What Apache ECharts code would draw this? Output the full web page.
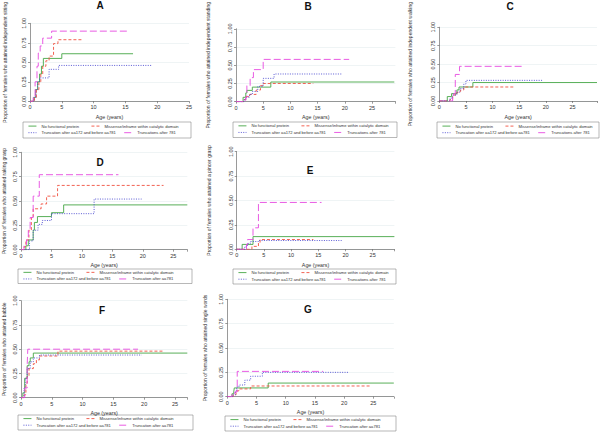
<!DOCTYPE html>
<html>
<head>
<meta charset="utf-8">
<script src="https://cdn.jsdelivr.net/npm/echarts@6/dist/echarts.min.js"></script>
<style>html,body{margin:0;padding:0;background:#fff;}#c{width:600px;height:435px;}</style>
</head>
<body>
<div id="c"></div>
<script>
// ---- data (age in years, cumulative proportion) ----
const panelLetters = ['A','B','C','D','E','F','G'];
const yTitles = [
  'Proportion of females who attained independent sitting',
  'Proportion of females who attained independent standing',
  'Proportion of females who attained independent walking',
  'Proportion of females who attained raking grasp',
  'Proportion of females who attained a pincer grasp',
  'Proportion of females who attained babble',
  'Proportion of females who attained single words'
];
const groupNames = ['No functional protein','Missense/inframe within catalytic domain','Truncation after aa172 and before aa781'];
const lastGroupNames = ['Truncations after 781','Truncations after 781','Truncations after 781','Truncation after aa781','Truncations after 781','Truncation after aa781','Truncation after aa781'];
const xMax = [25, 29.3, 29.6, 27.3, 29, 27, 28.5];
const xTicks = [0, 5, 10, 15, 20, 25];
const yTicks = [0, 0.25, 0.5, 0.75, 1];

const A_noFunc = [[0,0],[0.6,0.05],[0.9,0.15],[1.2,0.25],[1.5,0.35],[1.8,0.45],[2.1,0.55],[5.0,0.61],[16.2,0.61]];
const A_missense = [[0,0],[0.7,0.05],[1.0,0.15],[1.4,0.25],[1.7,0.35],[2.0,0.45],[2.5,0.52],[3.0,0.58],[3.7,0.74],[4.4,0.79],[8.1,0.79]];
const A_trunc172 = [[0,0],[0.6,0.05],[0.9,0.15],[1.2,0.25],[1.5,0.30],[3.0,0.41],[4.5,0.46],[19.2,0.46]];
const A_trunc781 = [[0,0],[0.5,0.05],[0.8,0.25],[1.1,0.45],[1.3,0.62],[1.6,0.71],[2.0,0.81],[3.4,0.90],[15.5,0.90]];

const B_noFunc = [[0,0],[1.3,0.06],[1.8,0.12],[2.0,0.155],[3.0,0.20],[6.4,0.27],[29.1,0.27]];
const B_missense = [[0,0],[1.5,0.03],[1.8,0.07],[2.5,0.10],[3.7,0.16],[4.5,0.22],[5.0,0.25],[14.2,0.25]];
const B_trunc172 = [[0,0],[1.5,0.03],[1.8,0.06],[2.5,0.10],[3.0,0.14],[4.0,0.21],[5.0,0.32],[7.0,0.38],[19.4,0.38]];
const B_trunc781 = [[0,0],[1.5,0.02],[1.8,0.06],[2.0,0.22],[2.6,0.33],[3.2,0.44],[5.0,0.58],[20.8,0.58]];

const C_noFunc = [[0,0],[1.5,0.06],[2.3,0.10],[3.3,0.15],[3.7,0.19],[6.3,0.25],[29.6,0.25]];
const C_missense = [[0,0],[2.0,0.02],[2.5,0.08],[3.0,0.11],[3.5,0.13],[4.0,0.15],[4.6,0.19],[14.2,0.19]];
const C_trunc172 = [[0,0],[2.0,0.04],[2.5,0.08],[3.3,0.12],[3.9,0.17],[4.6,0.23],[5.0,0.28],[19.4,0.28]];
const C_trunc781 = [[0,0],[2.5,0.05],[2.7,0.10],[3.0,0.36],[3.8,0.47],[15.75,0.47]];

const D_noFunc = [[0,0],[0.8,0.04],[1.2,0.10],[2.0,0.20],[2.2,0.28],[2.7,0.34],[5.0,0.38],[7.0,0.46],[27.3,0.46]];
const D_missense = [[0,0],[0.5,0.03],[0.8,0.10],[1.3,0.20],[1.7,0.33],[2.0,0.42],[3.3,0.47],[4.2,0.55],[6.0,0.66],[23.4,0.66]];
const D_trunc172 = [[0,0],[1.4,0.09],[2.0,0.20],[2.8,0.26],[3.5,0.30],[5.0,0.37],[12.0,0.52],[19.8,0.52]];
const D_trunc781 = [[0,0],[0.5,0.05],[0.9,0.10],[1.2,0.20],[1.5,0.33],[2.0,0.55],[3.0,0.77],[16.0,0.77]];

const E_noFunc = [[0,0],[1.0,0.05],[3.0,0.13],[29.0,0.13]];
const E_missense = [[0,0],[2.8,0.03],[4.0,0.07],[4.3,0.10],[14.1,0.10]];
const E_trunc172 = [[0,0],[1.5,0.03],[2.0,0.06],[2.5,0.08],[4.0,0.09],[19.3,0.09]];
const E_trunc781 = [[0,0],[1.8,0.05],[2.0,0.10],[3.0,0.22],[4.0,0.48],[15.6,0.48]];

const F_noFunc = [[0,0],[0.3,0.05],[0.6,0.20],[1.0,0.33],[1.3,0.37],[1.5,0.41],[2.0,0.46],[27.0,0.46]];
const F_missense = [[0,0],[0.5,0.03],[0.8,0.15],[1.0,0.22],[1.3,0.30],[2.0,0.35],[2.5,0.39],[3.0,0.43],[6.0,0.48],[23.0,0.48]];
const F_trunc172 = [[0,0],[0.5,0.10],[0.7,0.20],[1.0,0.30],[1.5,0.37],[2.0,0.41],[3.0,0.44],[19.6,0.44]];
const F_trunc781 = [[0,0],[0.6,0.10],[1.0,0.33],[1.1,0.50],[19.0,0.50]];

const G_noFunc = [[0,0],[0.8,0.03],[1.1,0.05],[1.2,0.09],[7.0,0.14],[28.5,0.14]];
const G_missense = [[0,0],[1.0,0.02],[1.5,0.06],[2.0,0.08],[4.0,0.11],[24.4,0.11]];
const G_trunc172 = [[0,0],[1.0,0.02],[1.4,0.06],[1.6,0.10],[2.0,0.12],[3.0,0.17],[4.0,0.21],[6.0,0.25],[20.7,0.25]];
const G_trunc781 = [[0,0],[0.8,0.03],[1.3,0.05],[1.7,0.26],[16.4,0.26]];

const panelData = [
  [A_noFunc, A_missense, A_trunc172, A_trunc781],
  [B_noFunc, B_missense, B_trunc172, B_trunc781],
  [C_noFunc, C_missense, C_trunc172, C_trunc781],
  [D_noFunc, D_missense, D_trunc172, D_trunc781],
  [E_noFunc, E_missense, E_trunc172, E_trunc781],
  [F_noFunc, F_missense, F_trunc172, F_trunc781],
  [G_noFunc, G_missense, G_trunc172, G_trunc781]
];

// ---- layout / styles ----
const layout = [
  {grid:[30,5.3,159,96],     nameGap:23, title:[100,0],   box:[23,122,168,16]},
  {grid:[236,4.7,159.4,97],  nameGap:26, title:[308,1],   box:[233,122,164,15.5]},
  {grid:[439.3,5,157.8,96],  nameGap:27, title:[510,1],   box:[437,122,162,16]},
  {grid:[20.7,152.3,166.6,97.4], nameGap:15, title:[100,157], box:[18,269,174,14.5]},
  {grid:[236.7,151.7,157.7,97.6], nameGap:25, title:[310,165], box:[233,269,163,15]},
  {grid:[20.7,300.7,166.6,97], nameGap:15, title:[102,305], box:[18,415,175,15]},
  {grid:[227.3,299.3,166.5,97.4], nameGap:20, title:[308,304], box:[225,416,171,15]}
];
const colors = ['#45a645','#f0503f','#4a4ad0','#e64ae0'];
const dashes = ['solid',[3,2],[1,1.4],[7,3]];
const FONT = '"Liberation Sans", Arial, sans-serif';
const txt = '#333';

const grids = [], xAxes = [], yAxes = [], series = [], legends = [], graphics = [];
layout.forEach((L, i) => {
  const [gl, gt, gw, gh] = L.grid;
  grids.push({left: gl, top: gt, width: gw, height: gh, containLabel: false});
  xAxes.push({
    type: 'value', gridIndex: i, min: 0, max: xMax[i], interval: 5,
    name: 'Age (years)', nameLocation: 'middle', nameGap: 13,
    nameTextStyle: {fontSize: 5.3, color: txt, fontFamily: FONT},
    axisLine: {show: true, lineStyle: {color: '#555', width: 0.6}},
    axisTick: {show: true, length: 2, lineStyle: {color: '#555', width: 0.6}},
    axisLabel: {fontSize: 5.5, color: txt, fontFamily: FONT, margin: 3,
      formatter: v => (xTicks.indexOf(v) >= 0 ? String(v) : '')},
    splitLine: {show: false}
  });
  yAxes.push({
    type: 'value', gridIndex: i, min: 0, max: 1, interval: 0.25,
    name: yTitles[i], nameLocation: 'middle', nameRotate: 90, nameGap: L.nameGap,
    nameTextStyle: {fontSize: 5, color: txt, fontFamily: FONT},
    axisLine: {show: true, lineStyle: {color: '#555', width: 0.6}},
    axisTick: {show: true, length: 2, lineStyle: {color: '#555', width: 0.6}},
    axisLabel: {fontSize: 5.5, color: txt, fontFamily: FONT, rotate: 90, margin: 3,
      formatter: v => (yTicks.indexOf(v) >= 0 ? v.toFixed(2) : '')},
    splitLine: {show: true, lineStyle: {color: '#e4ecee', width: 0.6}}
  });
  const names = groupNames.concat([lastGroupNames[i]]);
  panelData[i].forEach((d, k) => {
    series.push({
      type: 'line', name: names[k], xAxisIndex: i, yAxisIndex: i,
      data: d, step: 'end', symbol: 'none', showSymbol: false,
      lineStyle: {color: colors[k], width: 0.9, type: dashes[k]},
      itemStyle: {color: colors[k]},
      animation: false, silent: true, z: 2 + k
    });
  });
  const [bl, bt, bw, bh] = L.box;
  graphics.push({type: 'rect', shape: {x: bl, y: bt, width: bw, height: bh},
    style: {fill: 'none', stroke: '#888', lineWidth: 0.6}, silent: true});
  graphics.push({type: 'text', x: L.title[0], y: L.title[1],
    style: {text: panelLetters[i], fontSize: 10, fontWeight: 'bold', fill: '#111',
      fontFamily: FONT, textAlign: 'center', textVerticalAlign: 'top'}, silent: true});
  const legendBase = {
    orient: 'horizontal', itemWidth: 8, itemHeight: 5, padding: 0,
    width: 300, selectedMode: false,
    itemStyle: {opacity: 0},
    lineStyle: {width: 0.9},
    textStyle: {fontSize: 4.1, color: txt, fontFamily: FONT}
  };
  const c = bt + bh / 2;
  legends.push(Object.assign({}, legendBase, {left: bl + 5, top: c - 3.4 - 2.5, itemGap: 12, data: [names[0], names[1]]}));
  legends.push(Object.assign({}, legendBase, {left: bl + 5, top: c + 3.2 - 2.5, itemGap: 8, data: [names[2], names[3]]}));
});

const chart = echarts.init(document.getElementById('c'), null, {renderer: 'svg'});
chart.setOption({
  backgroundColor: '#fff',
  animation: false,
  grid: grids, xAxis: xAxes, yAxis: yAxes, series: series, legend: legends,
  graphic: graphics
});
</script>
</body>
</html>
